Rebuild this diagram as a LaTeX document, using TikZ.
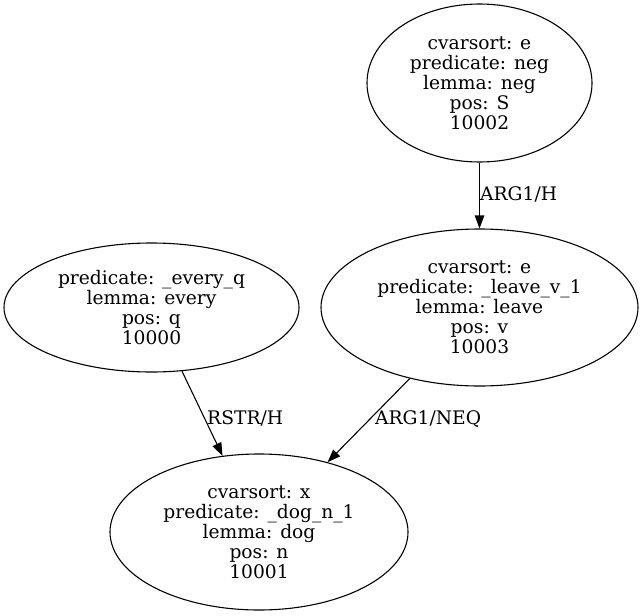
\documentclass[tikz,border=0pt]{standalone}
\usepackage{fontspec}
\setmainfont{DejaVu Serif}
\usepackage{tikz}
\usetikzlibrary{shapes.geometric,arrows.meta}

\begin{document}
\begin{tikzpicture}[x=1pt,y=-1pt,
  pred/.style={draw, ellipse, inner sep=0pt, line width=1.1pt, align=center,
    font=\fontsize{18.67}{20}\selectfont},
  lbl/.style={anchor=base west, inner sep=0pt, font=\fontsize{18.67}{20}\selectfont},
  edge/.style={line width=1.1pt, -{Triangle[length=13pt,width=9.5pt]}}]
  % Fix the page size
  \useasboundingbox (0,0) rectangle (643,616);

  % Draw the predicate nodes
  \node[pred, minimum width=225pt, minimum height=158pt] (neg) at (479.5,83)
    {cvarsort: e\\predicate: neg\\lemma: neg\\pos: S\\10002};
  \node[pred, minimum width=317pt, minimum height=157pt] (leave) at (479.5,307.5)
    {cvarsort: e\\predicate: \_leave\_v\_1\\lemma: leave\\pos: v\\10003};
  \node[pred, minimum width=295pt, minimum height=129pt] (every) at (151.5,307.5)
    {predicate: \_every\_q\\lemma: every\\pos: q\\10000};
  \node[pred, minimum width=298pt, minimum height=156pt] (dog) at (259,532)
    {cvarsort: x\\predicate: \_dog\_n\_1\\lemma: dog\\pos: n\\10001};

  % Draw the links
  \draw[edge] (neg) -- (leave);
  \draw[edge] (every) -- (dog);
  \draw[edge] (leave) -- (dog);

  % Link labels
  \node[lbl] (negleave) at (480,200) {ARG1/H};
  \node[lbl] (everydog) at (207,424) {RSTR/H};
  \node[lbl] (leavedog) at (375,424) {ARG1/NEQ};
\end{tikzpicture}
\end{document}
